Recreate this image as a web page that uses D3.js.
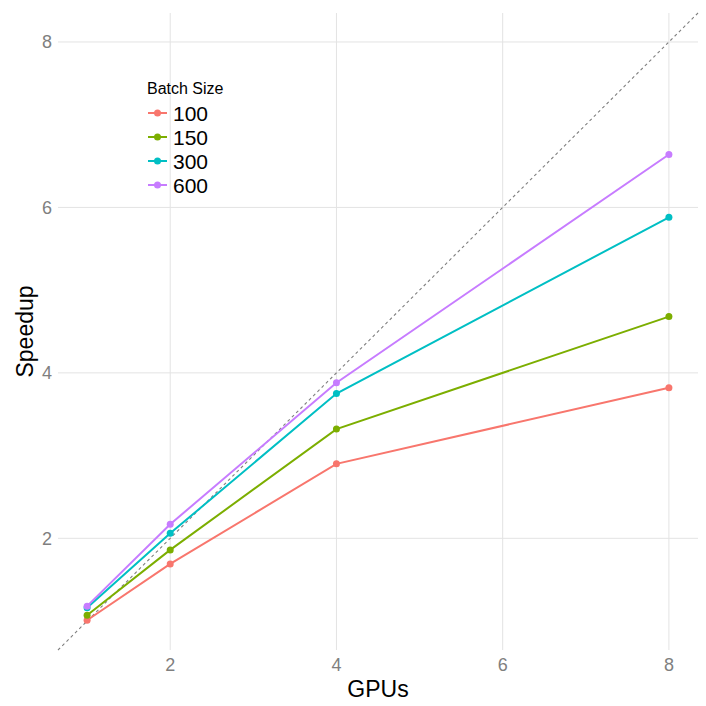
<!DOCTYPE html>
<html lang="en">
<head>
<meta charset="UTF-8">
<title>Speedup</title>
<style>
    body { margin: 0; background: #fff; }
    text { font-family: "Liberation Sans", Arial, sans-serif; }
    .grid line { stroke: #e3e3e3; stroke-width: 1px; }
</style>
</head>
<body>
<script src="https://d3js.org/d3.v7.min.js"></script>
<script>

    const gpus = [1, 2, 4, 8];
    const batchSizes = ['100', '150', '300', '600'];
    const speedup100 = [1.01, 1.69, 2.90, 3.82];
    const speedup150 = [1.07, 1.86, 3.32, 4.68];
    const speedup300 = [1.16, 2.06, 3.75, 5.88];
    const speedup600 = [1.18, 2.17, 3.88, 6.64];
    const ticks = [2, 4, 6, 8];
    const colors = ['#F8766D', '#7CAE00', '#00BFC4', '#C77CFF'];

    const series = [speedup100, speedup150, speedup300, speedup600];

    const width = 706;
    const height = 706;

    let x = d3.scaleLinear().domain([0.65, 8.35]).range([58, 698]);
    let y = d3.scaleLinear().domain([0.65, 8.35]).range([650, 13]);

    let svg = d3.select('body').append('svg')
        .attr('width', width)
        .attr('height', height);

    // grid
    let grid = svg.append('g').attr('class', 'grid');
    grid.selectAll('.vx').data(ticks).enter().append('line')
        .attr('x1', d => x(d)).attr('x2', d => x(d))
        .attr('y1', y.range()[0]).attr('y2', y.range()[1]);
    grid.selectAll('.hy').data(ticks).enter().append('line')
        .attr('y1', d => y(d)).attr('y2', d => y(d))
        .attr('x1', x.range()[0]).attr('x2', x.range()[1]);

    // tick labels
    svg.append('g').selectAll('text').data(ticks).enter().append('text')
        .attr('x', d => x(d)).attr('y', 671)
        .attr('text-anchor', 'middle')
        .attr('font-size', 18).attr('fill', '#7f7f7f')
        .text(d => d);
    svg.append('g').selectAll('text').data(ticks).enter().append('text')
        .attr('x', 52).attr('y', d => y(d) + 6.5)
        .attr('text-anchor', 'end')
        .attr('font-size', 18).attr('fill', '#7f7f7f')
        .text(d => d);

    // axis titles
    svg.append('text')
        .attr('x', (x.range()[0] + x.range()[1]) / 2).attr('y', 697)
        .attr('text-anchor', 'middle').attr('font-size', 23)
        .text('GPUs');
    svg.append('text')
        .attr('transform', 'translate(33,' + ((y.range()[0] + y.range()[1]) / 2) + ') rotate(-90)')
        .attr('text-anchor', 'middle').attr('font-size', 23)
        .text('Speedup');

    // ideal diagonal
    svg.append('line')
        .attr('x1', x(0.65)).attr('y1', y(0.65))
        .attr('x2', x(8.35)).attr('y2', y(8.35))
        .attr('stroke', '#7f7f7f').attr('stroke-width', 1.1)
        .attr('stroke-dasharray', '3,3');

    let line = d3.line()
        .x((d, i) => x(gpus[i]))
        .y(d => y(d));

    series.forEach(function (s, k) {
        svg.append('path')
            .attr('d', line(s))
            .attr('fill', 'none')
            .attr('stroke', colors[k])
            .attr('stroke-width', 2);
        svg.append('g').selectAll('circle').data(s).enter().append('circle')
            .attr('cx', (d, i) => x(gpus[i]))
            .attr('cy', d => y(d))
            .attr('r', 3.5)
            .attr('fill', colors[k]);
    });

    // legend
    let legend = svg.append('g');
    legend.append('text')
        .attr('x', 147).attr('y', 94)
        .attr('font-size', 16)
        .text('Batch Size');
    let items = legend.selectAll('.item').data(batchSizes).enter().append('g')
        .attr('transform', (d, i) => 'translate(0,' + (113 + i * 24) + ')');
    items.append('line')
        .attr('x1', 148).attr('x2', 167)
        .attr('stroke', (d, i) => colors[i]).attr('stroke-width', 2);
    items.append('circle')
        .attr('cx', 157.5).attr('r', 3.5)
        .attr('fill', (d, i) => colors[i]);
    items.append('text')
        .attr('x', 173).attr('y', 7.5)
        .attr('font-size', 21)
        .text(d => d);

</script>
</body>
</html>
